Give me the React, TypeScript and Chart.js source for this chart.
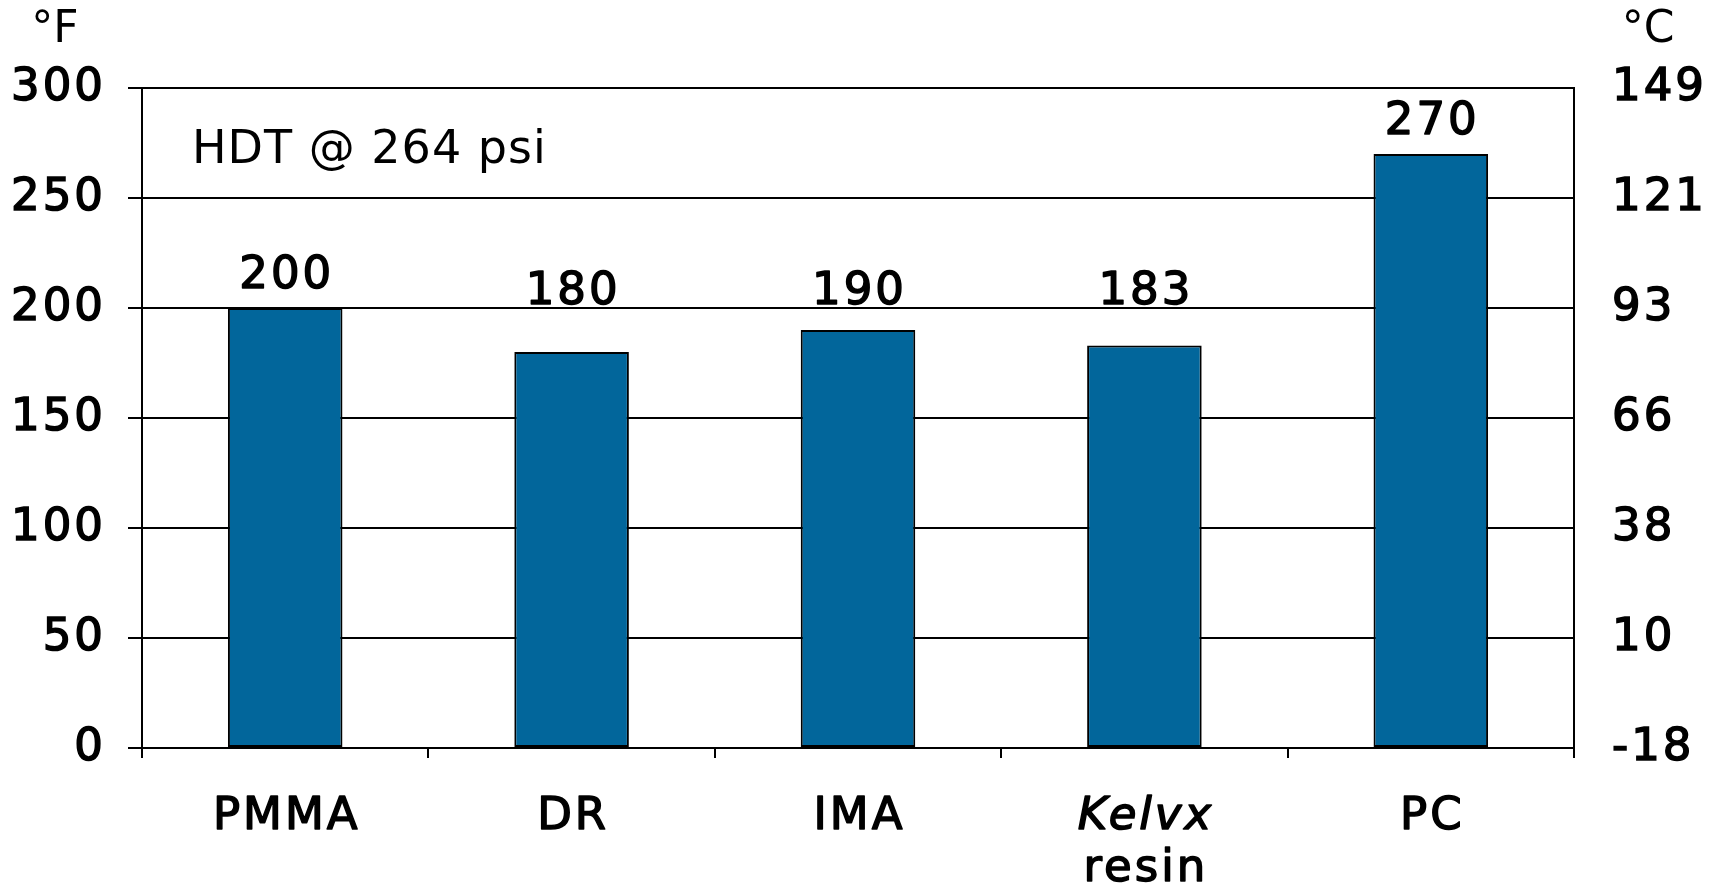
import React, { useEffect, useRef } from "react";
import { Chart, registerables } from "chart.js";

Chart.register(...registerables);

// ---- data ----
const categories = ["PMMA", "DR", "IMA", "Kelvx", "PC"];
const categorySecondLines = ["", "", "", "resin", ""];
const italicCategories = [false, false, false, true, false];
const hdtFahrenheit = [200, 180, 190, 183, 270];
const fahrenheitTicks = [0, 50, 100, 150, 200, 250, 300];
const celsiusTickLabels = ["-18", "10", "38", "66", "93", "121", "149"];
const annotationText = "HDT @ 264 psi";
const leftUnitLabel = "°F";
const rightUnitLabel = "°C";

const FONT = "'DejaVu Sans', Verdana, sans-serif";
const BAR_COLOR = "#02669b";
const SPACING = 3;
const LABEL_SIZE = 45;
const STROKE = 1.5;

const spacingPlugin = {
  id: "spacing",
  beforeDraw(chart: any) {
    (chart.ctx as any).letterSpacing = `${SPACING}px`;
  },
};

function boldText(ctx: any, text: string, x: number, y: number) {
  ctx.lineWidth = STROKE;
  ctx.strokeStyle = "#000";
  ctx.lineJoin = "round";
  ctx.strokeText(text, x, y);
  ctx.fillText(text, x, y);
}

const textPlugin = {
  id: "hdtTexts",
  afterDatasetsDraw(chart: any) {
    const ctx = chart.ctx;
    const area = chart.chartArea;
    const xs = chart.scales.x;
    const ys = chart.scales.y;
    const meta = chart.getDatasetMeta(0);
    ctx.save();
    ctx.fillStyle = "#000";
    ctx.letterSpacing = `${SPACING}px`;

    // value labels above bars, lifted above any gridline they would cross
    const capH = LABEL_SIZE * 0.73;
    ctx.font = `${LABEL_SIZE}px ${FONT}`;
    ctx.textAlign = "center";
    ctx.textBaseline = "alphabetic";
    const gridPx = ys.ticks.map((t: any) => ys.getPixelForValue(t.value));
    meta.data.forEach((bar: any, i: number) => {
      let bottom = bar.y - 20;
      let moved = true;
      while (moved) {
        moved = false;
        for (const g of gridPx) {
          if (g > bottom - capH - 2 && g < bottom + 4) {
            bottom = g - 4;
            moved = true;
          }
        }
      }
      boldText(ctx, String(hdtFahrenheit[i]), bar.x + SPACING / 2, bottom);
    });

    // category labels
    ctx.textBaseline = "middle";
    categories.forEach((c, i) => {
      const cx = xs.getPixelForValue(i) + SPACING / 2;
      ctx.font = `${italicCategories[i] ? "italic " : ""}${LABEL_SIZE}px ${FONT}`;
      boldText(ctx, c, cx, area.bottom + 69);
      if (categorySecondLines[i]) {
        ctx.font = `${LABEL_SIZE}px ${FONT}`;
        boldText(ctx, categorySecondLines[i], cx, area.bottom + 121);
      }
    });

    // annotation
    ctx.letterSpacing = "1px";
    ctx.font = `46px ${FONT}`;
    ctx.textAlign = "left";
    ctx.fillText(annotationText, area.left + 50, area.top + 63);

    // unit labels
    ctx.letterSpacing = "0px";
    ctx.textAlign = "center";
    ctx.font = `44px ${FONT}`;
    ctx.fillText(leftUnitLabel, area.left - 87, area.top - 57);
    ctx.fillText(rightUnitLabel, area.right + 74, area.top - 57);
    ctx.restore();
  },
};

export default function App() {
  const canvasRef = useRef<HTMLCanvasElement | null>(null);

  useEffect(() => {
    document.body.style.margin = "0";
    const canvas = canvasRef.current;
    if (!canvas) return;
    const tickFont = { family: FONT, size: LABEL_SIZE, weight: "normal" as const };
    const chart = new Chart(canvas, {
      type: "bar",
      data: {
        labels: categories,
        datasets: [
          {
            data: hdtFahrenheit,
            backgroundColor: BAR_COLOR,
            borderColor: "#000",
            borderWidth: 2,
            borderSkipped: false,
            barPercentage: 0.4,
            categoryPercentage: 1.0,
            yAxisID: "y",
          },
        ],
      },
      options: {
        animation: false,
        responsive: true,
        maintainAspectRatio: false,
        devicePixelRatio: 1,
        layout: { padding: { top: 88, left: 0, right: 0, bottom: 0 } },
        plugins: {
          legend: { display: false },
          tooltip: { enabled: false },
          title: { display: false },
        },
        scales: {
          x: {
            offset: true,
            grid: {
              offset: true,
              drawOnChartArea: false,
              drawTicks: true,
              tickLength: 10,
              color: "#000",
              lineWidth: 2,
            },
            border: { display: true, color: "#000", width: 2 },
            ticks: { display: false },
            afterFit: (s: any) => {
              s.height = 139;
            },
          },
          y: {
            position: "left",
            min: 0,
            max: 300,
            afterBuildTicks: (s: any) => {
              s.ticks = fahrenheitTicks.map((v) => ({ value: v }));
            },
            grid: {
              color: "#000",
              lineWidth: 2,
              drawTicks: true,
              tickLength: 14,
              tickColor: "#000",
            },
            border: { display: true, color: "#000", width: 2 },
            ticks: {
              color: "#000",
              padding: 22,
              font: tickFont,
              textStrokeColor: "#000",
              textStrokeWidth: STROKE,
            },
            afterFit: (s: any) => {
              s.width = 142;
            },
          },
          y2: {
            position: "right",
            min: 0,
            max: 300,
            afterBuildTicks: (s: any) => {
              s.ticks = fahrenheitTicks.map((v) => ({ value: v }));
            },
            grid: { display: false, drawOnChartArea: false },
            border: { display: true, color: "#000", width: 2 },
            ticks: {
              color: "#000",
              padding: 30,
              font: tickFont,
              textStrokeColor: "#000",
              textStrokeWidth: STROKE,
              callback: (v: any) => celsiusTickLabels[fahrenheitTicks.indexOf(Number(v))] ?? "",
            },
            afterFit: (s: any) => {
              s.width = 144;
            },
          },
        },
      },
      plugins: [spacingPlugin, textPlugin],
    });
    return () => chart.destroy();
  }, []);

  return (
    <div style={{ width: 1718, height: 887, position: "relative", background: "#fff" }}>
      <canvas ref={canvasRef} />
    </div>
  );
}
